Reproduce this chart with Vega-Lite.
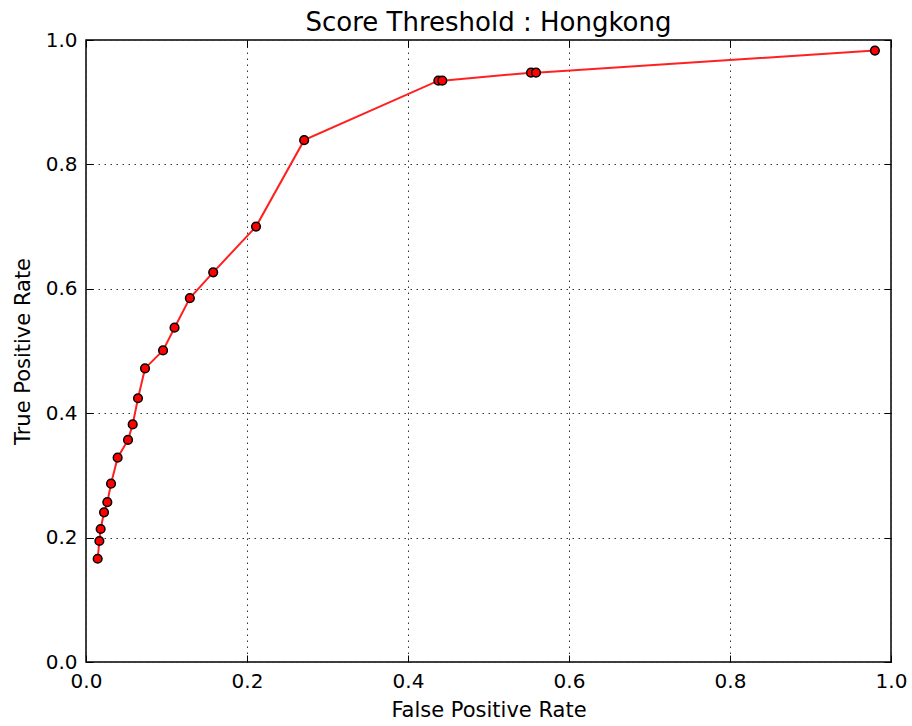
{
  "$schema": "https://vega.github.io/schema/vega-lite/v6.json",
  "autosize": "none",
  "width": 805,
  "height": 622,
  "padding": {"left": 86, "top": 40, "right": 21, "bottom": 64},
  "background": "white",
  "config": {
    "font": "DejaVu Sans",
    "view": {"stroke": "black", "strokeWidth": 1.5},
    "axis": {
      "labelFont": "DejaVu Sans",
      "labelFontSize": 20,
      "labelColor": "black",
      "labelFlush": false,
      "labelPadding": 16,
      "titleFont": "DejaVu Sans",
      "titleFontSize": 21,
      "titleFontWeight": "normal",
      "titleColor": "black",
      "domain": false,
      "tickColor": "black",
      "tickSize": -7,
      "tickWidth": 1,
      "gridColor": "#333333",
      "gridDash": [1.5, 4.5],
      "gridWidth": 1,
      "gridOpacity": 1
    }
  },
  "title": {
    "text": "Score Threshold : Hongkong",
    "font": "DejaVu Sans",
    "fontSize": 26,
    "fontWeight": "normal",
    "color": "black",
    "baseline": "bottom",
    "offset": 0,
    "dy": 32
  },
  "data": {
    "values": [
      {"fpr": 0.0145, "tpr": 0.166},
      {"fpr": 0.0166, "tpr": 0.1945},
      {"fpr": 0.0182, "tpr": 0.2138},
      {"fpr": 0.0224, "tpr": 0.2406},
      {"fpr": 0.0265, "tpr": 0.257},
      {"fpr": 0.0311, "tpr": 0.2867},
      {"fpr": 0.0393, "tpr": 0.3285},
      {"fpr": 0.0522, "tpr": 0.357},
      {"fpr": 0.058, "tpr": 0.382},
      {"fpr": 0.0646, "tpr": 0.424},
      {"fpr": 0.0733, "tpr": 0.472},
      {"fpr": 0.0957, "tpr": 0.501},
      {"fpr": 0.110, "tpr": 0.5375},
      {"fpr": 0.129, "tpr": 0.585},
      {"fpr": 0.158, "tpr": 0.6265},
      {"fpr": 0.2112, "tpr": 0.700},
      {"fpr": 0.271, "tpr": 0.839},
      {"fpr": 0.4377, "tpr": 0.9346},
      {"fpr": 0.4426, "tpr": 0.9346},
      {"fpr": 0.5528, "tpr": 0.9475},
      {"fpr": 0.559, "tpr": 0.9475},
      {"fpr": 0.980, "tpr": 0.983}
    ]
  },
  "resolve": {"axis": {"x": "independent", "y": "independent"}},
  "layer": [
    {
      "mark": {"type": "line", "color": "#ff2020", "strokeWidth": 2},
      "encoding": {
        "x": {
          "field": "fpr",
          "type": "quantitative",
          "scale": {"domain": [0, 1], "nice": false},
          "axis": {"title": "False Positive Rate", "values": [0, 0.2, 0.4, 0.6, 0.8, 1.0], "format": ".1f", "titlePadding": 8}
        },
        "y": {
          "field": "tpr",
          "type": "quantitative",
          "scale": {"domain": [0, 1], "nice": false},
          "axis": {"title": "True Positive Rate", "values": [0, 0.2, 0.4, 0.6, 0.8, 1.0], "format": ".1f", "titlePadding": 12}
        }
      }
    },
    {
      "mark": {"type": "point", "filled": true, "fill": "#ff0000", "stroke": "black", "strokeWidth": 1.5, "size": 75, "opacity": 1},
      "encoding": {
        "x": {
          "field": "fpr",
          "type": "quantitative",
          "scale": {"domain": [0, 1], "nice": false},
          "axis": {"orient": "top", "title": null, "labels": false, "grid": false, "values": [0, 0.2, 0.4, 0.6, 0.8, 1.0]}
        },
        "y": {
          "field": "tpr",
          "type": "quantitative",
          "scale": {"domain": [0, 1], "nice": false},
          "axis": {"orient": "right", "title": null, "labels": false, "grid": false, "values": [0, 0.2, 0.4, 0.6, 0.8, 1.0]}
        }
      }
    }
  ]
}
